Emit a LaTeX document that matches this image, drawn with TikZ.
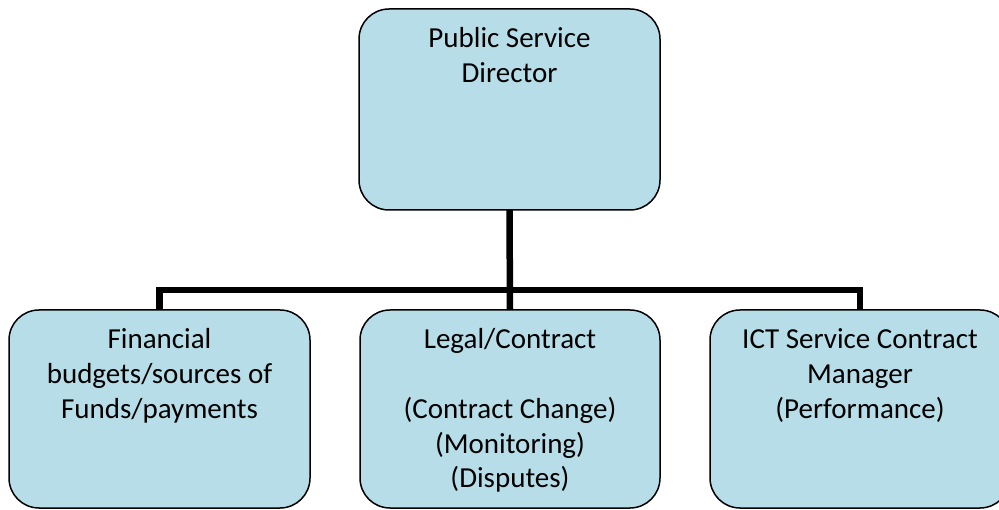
\documentclass[tikz,border=0pt]{standalone}
\usepackage{fontspec}
\setmainfont{Carlito}
\definecolor{boxfill}{HTML}{B7DEE8}
\begin{document}
\begin{tikzpicture}[x=1pt,y=-1pt,
  box/.style={draw=black, line width=1.5pt, fill=boxfill, rounded corners=30pt,
    inner sep=0pt, outer sep=0pt},
  conn/.style={draw=black, line width=6.5pt},
  lbl/.style={anchor=north, inner sep=0pt, align=center,
    font=\fontsize{29}{34.8}\selectfont, yshift=-14.2pt}]
\useasboundingbox (0,0) rectangle (999,510);
\clip (0,0) rectangle (999,510);

% boxes
\node[box, minimum width=301pt, minimum height=201pt] (dir) at (509.5,109.5) {};
\node[box, minimum width=301pt, minimum height=198pt] (fin) at (159.5,409) {};
\node[box, minimum width=300pt, minimum height=198pt] (legal) at (510,409) {};
\node[box, minimum width=300pt, minimum height=198pt] (ict) at (860,409) {};

% connectors
\coordinate (bar) at (510,290);
\draw[conn] (dir.south) -- (legal.north);
\draw[conn] (fin.north) |- (bar) -| (ict.north);

% labels
\node[lbl] (dirt) at (dir.north) {\strut Public Service\\\strut Director};
\node[lbl] (fint) at (fin.north) {\strut Financial\\\strut budgets/sources of\\\strut Funds/payments};
\node[lbl] (legalt) at (legal.north) {\strut Legal/Contract\\\strut\\\strut (Contract Change)\\\strut (Monitoring)\\\strut (Disputes)};
\node[lbl] (ictt) at (ict.north) {\strut ICT Service Contract\\\strut Manager\\\strut (Performance)};
\end{tikzpicture}
\end{document}
